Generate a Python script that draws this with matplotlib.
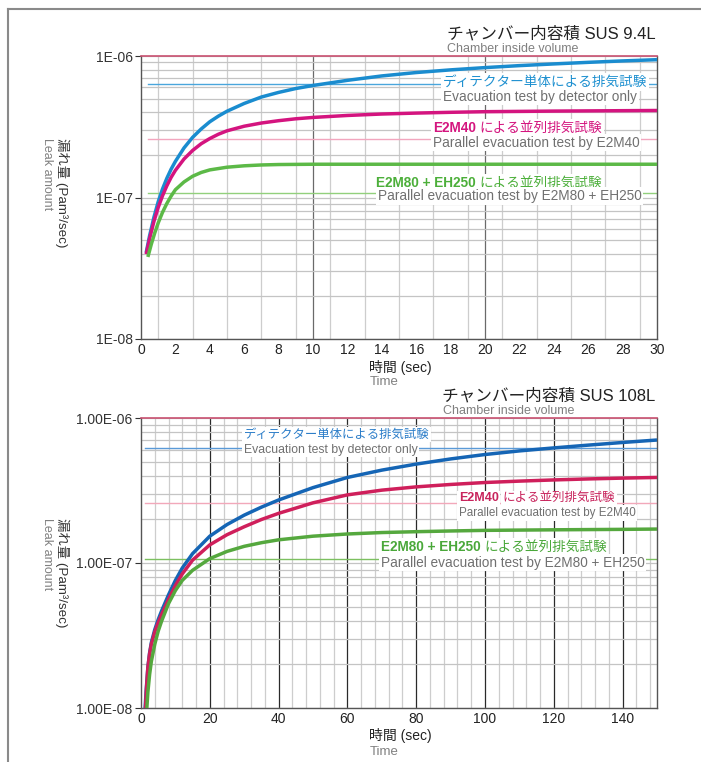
import math
import matplotlib
matplotlib.use('Agg')
import matplotlib.pyplot as plt
from matplotlib.ticker import LogLocator, MultipleLocator, FixedLocator, FuncFormatter, NullFormatter
from matplotlib.lines import Line2D

plt.rcParams['font.family'] = ['Liberation Sans', 'Noto Sans CJK JP', 'DejaVu Sans']

# ---- top chart: chamber SUS 9.4L ----
t_top_blue = [0.3, 0.5, 0.75, 1.0, 1.25, 1.5, 1.75, 2.0, 2.5, 3.0, 3.5, 4.0, 4.5, 5, 6, 7, 8, 9,
              10, 12, 14, 16, 18, 20, 22, 24, 26, 28, 30]
v_top_blue = [4.07e-8, 5.37e-8, 7.24e-8, 9.33e-8, 1.148e-7, 1.365e-7, 1.585e-7, 1.80e-7, 2.24e-7,
              2.66e-7, 3.05e-7, 3.43e-7, 3.76e-7, 4.07e-7, 4.62e-7, 5.13e-7, 5.53e-7, 5.89e-7,
              6.19e-7, 6.73e-7, 7.23e-7, 7.64e-7, 7.98e-7, 8.28e-7, 8.55e-7, 8.79e-7, 9.02e-7,
              9.23e-7, 9.42e-7]
t_top_mag = [0.3, 0.5, 0.75, 1.0, 1.25, 1.5, 1.75, 2.0, 2.5, 3.0, 3.5, 4.0, 4.5, 5, 6, 7, 8, 9,
             10, 12, 14, 16, 18, 20, 24, 30]
v_top_mag = [3.98e-8, 5.13e-8, 6.76e-8, 8.51e-8, 1.028e-7, 1.208e-7, 1.387e-7, 1.556e-7, 1.87e-7,
             2.15e-7, 2.40e-7, 2.61e-7, 2.80e-7, 2.96e-7, 3.19e-7, 3.36e-7, 3.49e-7, 3.60e-7,
             3.68e-7, 3.80e-7, 3.89e-7, 3.95e-7, 4.00e-7, 4.04e-7, 4.08e-7, 4.12e-7]
t_top_green = [0.4, 0.6, 0.8, 1.0, 1.25, 1.5, 1.75, 2.0, 2.5, 3.0, 3.5, 4.0, 5, 6, 7, 8, 10,
               15, 20, 25, 30]
v_top_green = [3.80e-8, 4.68e-8, 5.62e-8, 6.61e-8, 7.85e-8, 9.06e-8, 1.023e-7, 1.135e-7,
               1.288e-7, 1.413e-7, 1.503e-7, 1.567e-7, 1.637e-7, 1.675e-7, 1.698e-7, 1.710e-7,
               1.718e-7, 1.718e-7, 1.718e-7, 1.718e-7, 1.718e-7]
top_ref_levels = [6.3e-7, 2.6e-7, 1.07e-7]
top_ref_start = 0.4

# ---- bottom chart: chamber SUS 108L ----
t_bot_blue = [1.2, 1.5, 2, 2.5, 3, 4, 5, 6, 8, 10, 12, 15, 20, 25, 30, 35, 40, 50, 60, 70, 80,
              90, 100, 110, 120, 130, 140, 150]
v_bot_blue = [1.0e-8, 1.318e-8, 1.905e-8, 2.40e-8, 2.82e-8, 3.47e-8, 4.07e-8, 4.68e-8, 6.03e-8,
              7.59e-8, 9.23e-8, 1.161e-7, 1.531e-7, 1.841e-7, 2.138e-7, 2.427e-7, 2.72e-7,
              3.31e-7, 3.89e-7, 4.37e-7, 4.81e-7, 5.22e-7, 5.60e-7, 5.93e-7, 6.22e-7, 6.50e-7,
              6.78e-7, 7.05e-7]
t_bot_mag = [1.3, 1.6, 2, 2.5, 3, 4, 5, 6, 8, 10, 12, 15, 20, 25, 30, 35, 40, 50, 60, 70, 80,
             90, 100, 110, 120, 130, 140, 150]
v_bot_mag = [1.0e-8, 1.38e-8, 1.905e-8, 2.37e-8, 2.75e-8, 3.35e-8, 3.89e-8, 4.42e-8, 5.62e-8,
             7.0e-8, 8.41e-8, 1.047e-7, 1.334e-7, 1.567e-7, 1.778e-7, 1.995e-7, 2.20e-7,
             2.60e-7, 2.95e-7, 3.18e-7, 3.35e-7, 3.48e-7, 3.59e-7, 3.67e-7, 3.74e-7, 3.80e-7,
             3.85e-7, 3.89e-7]
t_bot_green = [1.7, 2, 2.5, 3, 4, 5, 6, 8, 10, 12, 15, 20, 25, 30, 35, 40, 50, 60, 70, 80, 90,
               100, 120, 140, 150]
v_bot_green = [1.0e-8, 1.288e-8, 1.70e-8, 2.09e-8, 2.75e-8, 3.39e-8, 3.98e-8, 5.25e-8, 6.46e-8,
               7.59e-8, 8.91e-8, 1.072e-7, 1.202e-7, 1.303e-7, 1.380e-7, 1.445e-7, 1.531e-7,
               1.585e-7, 1.622e-7, 1.644e-7, 1.663e-7, 1.679e-7, 1.694e-7, 1.706e-7, 1.714e-7]
bot_ref_levels = [6.24e-7, 2.58e-7, 1.07e-7]
bot_ref_start = 1.2

top_title = 'チャンバー内容積 SUS 9.4L'
bot_title = 'チャンバー内容積 SUS 108L'
sub_title = 'Chamber inside volume'
lab_blue_jp = 'ディテクター単体による排気試験'
lab_blue_en = 'Evacuation test by detector only'
lab_e2m40_bold = 'E2M40'
lab_e2m40_jp = 'による並列排気試験'
lab_e2m40_en = 'Parallel evacuation test by E2M40'
lab_e2m80_bold = 'E2M80 + EH250'
lab_e2m80_jp = 'による並列排気試験'
lab_e2m80_en = 'Parallel evacuation test by E2M80 + EH250'
ylabel_jp = '漏れ量 (Pam³/sec)'
ylabel_en = 'Leak amount'
xlabel_jp = '時間 (sec)'
xlabel_en = 'Time'

W, H = 701, 762
fig = plt.figure(figsize=(W / 100, H / 100), dpi=100)
fig.patch.set_facecolor('white')


def fx(x):
    return x / W


def fy(y):
    return 1 - y / H


def ftext(x, y, s, size=9.8, color='#222222', ha='left', weight='normal', box=True, z=3):
    # y is the visual centre of the line in pixels -> baseline
    base = y + 0.36 * size * 100 / 72
    bb = dict(facecolor='white', edgecolor='none', pad=1.2) if box else None
    return fig.text(fx(x), fy(base), s, fontsize=size, color=color, ha=ha, va='baseline',
                    fontweight=weight, bbox=bb, zorder=z)


def setup_axes(ax, xmax, major_grid, minor_step, label_ticks, fmt, major_color):
    ax.set_yscale('log')
    ax.set_xlim(0, xmax)
    ax.set_ylim(1e-8, 1e-6)
    ax.xaxis.set_major_locator(FixedLocator(label_ticks))
    ax.xaxis.set_minor_locator(MultipleLocator(minor_step))
    ax.yaxis.set_major_locator(LogLocator(base=10))
    ax.yaxis.set_minor_locator(LogLocator(base=10, subs=[2, 3, 4, 5, 6, 7, 8, 9]))
    ax.yaxis.set_minor_formatter(NullFormatter())
    ax.yaxis.set_major_formatter(FuncFormatter(fmt))
    ax.grid(which='minor', axis='x', color='#cdcdcd', lw=0.9)
    ax.grid(which='both', axis='y', color='#c4c4c4', lw=0.9)
    for g in major_grid:
        ax.axvline(g, color=major_color, lw=0.9, zorder=1.5)
    ax.tick_params(axis='x', which='both', length=0, labelsize=10, pad=3, colors='#222222')
    ax.tick_params(axis='y', which='major', length=4, width=0.8, labelsize=10, pad=2,
                   colors='#333333')
    ax.tick_params(axis='y', which='minor', length=0)
    for s in ['left', 'right', 'bottom']:
        ax.spines[s].set_color('#555555')
        ax.spines[s].set_linewidth(1.0)
    ax.spines['top'].set_color('#c85070')
    ax.spines['top'].set_linewidth(1.2)


# ---------------- top chart ----------------
ax1 = fig.add_axes([fx(141), fy(339), fx(657) - fx(141), fy(56) - fy(339)])
setup_axes(ax1, 30, [10, 20], 1, list(range(0, 31, 2)),
           lambda v, p: '1E-%02d' % round(-math.log10(v)), '#6a6a6a')
for lv, c in zip(top_ref_levels, ['#4aa6dc', '#f2a6be', '#92d07c']):
    ax1.plot([top_ref_start, 30], [lv, lv], color=c, lw=1.0, zorder=2)
ax1.plot(t_top_blue, v_top_blue, color='#1a8ccf', lw=2.5, zorder=3, solid_capstyle='butt')
ax1.plot(t_top_mag, v_top_mag, color='#d4147f', lw=2.5, zorder=3, solid_capstyle='butt')
ax1.plot(t_top_green, v_top_green, color='#5cb947', lw=2.5, zorder=3, solid_capstyle='butt')

# ---------------- bottom chart ----------------
ax2 = fig.add_axes([fx(141), fy(708), fx(657) - fx(141), fy(418) - fy(708)])
setup_axes(ax2, 150, list(range(20, 141, 20)), 4, list(range(0, 141, 20)),
           lambda v, p: '1.00E-%02d' % round(-math.log10(v)), '#2a2a2a')
for lv, c in zip(bot_ref_levels, ['#5a9ad8', '#f2a8ba', '#7cc060']):
    ax2.plot([bot_ref_start, 150], [lv, lv], color=c, lw=1.0, zorder=2)
ax2.plot(t_bot_blue, v_bot_blue, color='#1565b5', lw=2.5, zorder=3, solid_capstyle='butt')
ax2.plot(t_bot_mag, v_bot_mag, color='#cf1f5b', lw=2.5, zorder=3, solid_capstyle='butt')
ax2.plot(t_bot_green, v_bot_green, color='#55a83e', lw=2.5, zorder=3, solid_capstyle='butt')

# ---------------- titles and labels ----------------
ftext(656, 33, top_title, size=12, ha='right', box=False)
ftext(447, 47, sub_title, size=9, color='#808080', box=False)
ftext(655, 395, bot_title, size=12, ha='right', box=False)
ftext(443, 410, sub_title, size=9, color='#808080', box=False)

ftext(443, 81, lab_blue_jp, color='#1e90d0')
ftext(443, 95.7, lab_blue_en, color='#707070', z=4)
ftext(244, 433.3, lab_blue_jp, size=8.9, color='#2a7cc8')
ftext(244, 448.3, lab_blue_en, size=8.8, color='#707070', z=4)

ftext(433, 141.7, lab_e2m40_en, color='#707070', z=4)
ftext(459, 511.7, lab_e2m40_en, size=8.4, color='#707070', z=4)
ftext(378, 195, lab_e2m80_en, color='#707070', z=4)
ftext(381, 561.7, lab_e2m80_en, color='#707070', z=4)

split_labels = [
    (433, 126.7, lab_e2m40_bold, lab_e2m40_jp, '#d4157f', 9.8),
    (459, 496.7, lab_e2m40_bold, lab_e2m40_jp, '#c8245c', 9.0),
    (376, 181.7, lab_e2m80_bold, lab_e2m80_jp, '#4caf3a', 9.8),
    (381, 545.7, lab_e2m80_bold, lab_e2m80_jp, '#4aa83a', 9.8),
]
fig.canvas.draw()
renderer = fig.canvas.get_renderer()
for x, y, bold, rest, col, sz in split_labels:
    tb = ftext(x, y, bold, size=sz, color=col, weight='bold')
    w = tb.get_window_extent(renderer).width
    ftext(x + w + 3.5, y, rest, size=sz, color=col)

# axis labels (rotated, reading downward)
for top in [138, 518]:
    fig.text(fx(62), fy(top), ylabel_jp, rotation=-90, fontsize=9.6, color='#333333',
             ha='center', va='top')
    fig.text(fx(47), fy(top), ylabel_en, rotation=-90, fontsize=9, color='#808080',
             ha='center', va='top')
for yj, ye in [(366.7, 380.5), (735, 750)]:
    ftext(369, yj, xlabel_jp, size=10, color='#222222', box=False)
    ftext(370, ye, xlabel_en, size=9.5, color='#808080', box=False)

# partial frame (top and left edges)
fig.add_artist(Line2D([fx(8), 1], [fy(9), fy(9)], color='#8a8a8a', lw=1.5))
fig.add_artist(Line2D([fx(8), fx(8)], [fy(9), 0], color='#8a8a8a', lw=1.5))

fig.savefig('out.png', dpi=100)
